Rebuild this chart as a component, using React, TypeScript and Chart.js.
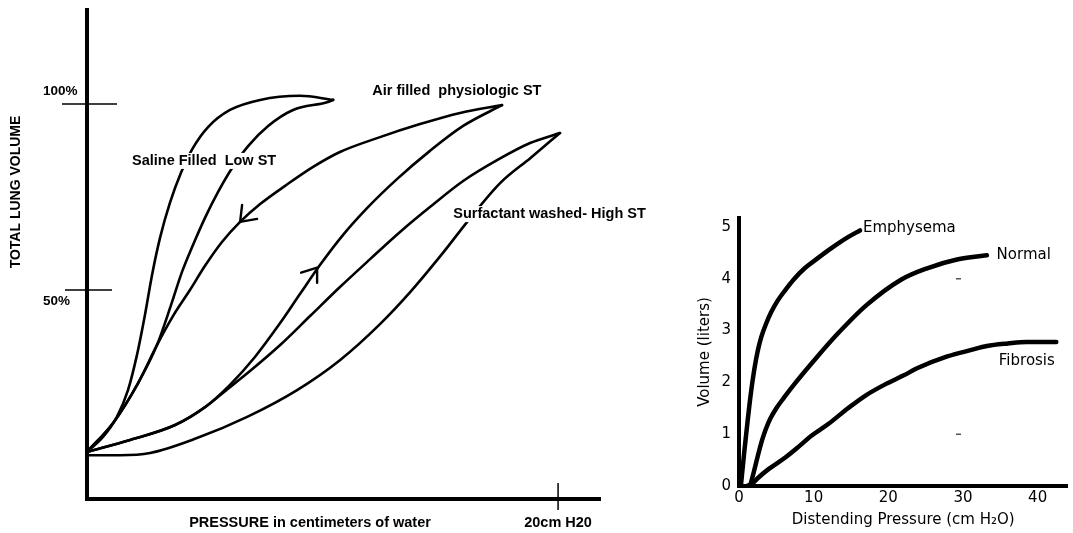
import React, { useEffect, useRef } from 'react';
import { Chart, registerables } from 'chart.js';

Chart.register(...registerables);

// ---------------- Left chart: P–V loops (x: cm H2O, y: % total lung volume) ----------------
const salineInflationX = [0, 0.68, 1.27, 1.74, 2.12, 2.46, 2.76, 3.1, 3.52, 3.99, 4.5, 5.14, 6.07, 7.35, 9.04, 10.45];
const salineInflationY = [6.5, 10.5, 15.9, 23.1, 32.5, 43.3, 54.0, 64.0, 73.4, 81.5, 88.2, 93.8, 98.4, 101.1, 102.2, 101.1];
const salineDeflationX = [0, 1.1, 2.17, 2.97, 3.57, 4.03, 4.5, 5.01, 5.56, 6.16, 6.84, 7.69, 8.75, 10.19, 10.45];
const salineDeflationY = [6.5, 14.2, 25.0, 35.2, 46.0, 54.8, 62.1, 69.4, 76.3, 82.8, 88.7, 94.1, 98.4, 100.5, 101.1];
const airDeflationX = [0, 1.1, 2.17, 2.97, 3.65, 4.37, 5.01, 5.73, 6.5, 7.35, 8.41, 9.6, 10.74, 12.44, 14.14, 15.84, 17.62];
const airDeflationY = [6.5, 14.2, 25.0, 35.2, 43.0, 50.0, 56.5, 62.9, 68.3, 73.1, 78.0, 83.1, 87.1, 91.1, 94.6, 97.6, 99.7];
const airInflationX = [0, 1.83, 3.74, 5.01, 6.07, 7.13, 8.2, 9.04, 9.89, 10.83, 11.89, 13.16, 14.56, 15.97, 17.62];
const airInflationY = [6.5, 9.7, 13.7, 18.5, 24.5, 32.0, 41.1, 48.9, 56.7, 64.5, 72.0, 79.8, 87.4, 94.1, 99.7];
const surfactantDeflationX = [0, 1.83, 3.74, 5.01, 5.86, 6.92, 8.2, 9.47, 10.74, 12.02, 13.29, 14.56, 15.97, 17.41, 18.81, 20.08];
const surfactantDeflationY = [6.5, 9.7, 13.7, 18.5, 22.8, 28.2, 35.2, 43.0, 50.8, 58.3, 65.6, 72.3, 79.3, 84.9, 89.5, 92.2];
const surfactantInflationX = [0, 1.4, 2.68, 4.67, 6.8, 8.92, 10.75, 12.45, 13.73, 15.0, 16.28, 17.55, 18.83, 20.08];
const surfactantInflationY = [5.6, 5.6, 6.2, 10.2, 15.9, 23.1, 31.2, 40.9, 49.5, 59.1, 69.4, 78.8, 85.5, 92.2];

const leftCurveLabels = ['Saline Filled  Low ST', 'Air filled  physiologic ST', 'Surfactant washed- High ST'];
const leftCurveLabelX = [1.91, 12.11, 15.55];
const leftCurveLabelY = [84.7, 103.5, 70.4];

const arrowX = [6.5, 9.77];
const arrowY = [68.3, 56.0];

const leftYTickValues = [100, 50];
const leftYTickLabels = ['100%', '50%'];
const leftXTickValues = [20];
const leftXTickLabels = ['20cm H20'];

// ---------------- Right chart: static compliance curves ----------------
const emphysemaX = [0.25, 0.7, 1.15, 1.6, 2.05, 2.5, 3.0, 3.6, 4.3, 5.2, 6.2, 7.3, 8.8, 10.6, 12, 13.3, 14.6, 16.2];
const emphysemaY = [0, 0.65, 1.25, 1.8, 2.25, 2.6, 2.88, 3.12, 3.35, 3.58, 3.78, 3.98, 4.2, 4.4, 4.55, 4.68, 4.8, 4.93];
const normalX = [1.5, 2.0, 2.5, 3.1, 3.6, 4.2, 5.0, 6.0, 7.5, 10.4, 13.3, 17, 21.7, 25.2, 29.2, 33.2];
const normalY = [0, 0.28, 0.57, 0.89, 1.1, 1.3, 1.5, 1.7, 1.98, 2.48, 2.95, 3.48, 3.98, 4.2, 4.37, 4.45];
const fibrosisX = [1.0, 1.8, 2.5, 4, 6.2, 8, 9.7, 12, 14.6, 17, 19.7, 22, 24, 27.9, 31, 33.2, 36, 38.5, 42.5];
const fibrosisY = [0, 0.05, 0.15, 0.33, 0.55, 0.76, 0.97, 1.2, 1.5, 1.75, 1.97, 2.13, 2.28, 2.5, 2.62, 2.7, 2.75, 2.78, 2.78];
const markX = [29.4, 29.4];
const markY = [4.0, 1.0];

const rightXTicks = [0, 10, 20, 30, 40];
const rightYTicks = [0, 1, 2, 3, 4, 5];
const rightLabels = ['Emphysema', 'Normal', 'Fibrosis'];
const rightLabelX = [16.6, 34.5, 34.8];
const rightLabelY = [4.97, 4.45, 2.4];

const toPts = (xs: number[], ys: number[]) => xs.map((x, i) => ({ x, y: ys[i] }));

const LEFT_FONT = '"Liberation Sans", Arial, sans-serif';
const RIGHT_FONT = '"DejaVu Sans", sans-serif';

const leftDecor = {
  id: 'leftDecor',
  afterDatasetsDraw(chart: any) {
    const { ctx } = chart;
    const x = chart.scales.x;
    const y = chart.scales.y;
    ctx.save();
    ctx.fillStyle = '#000';
    ctx.strokeStyle = '#000';
    ctx.lineCap = 'butt';

    // tick marks
    ctx.lineWidth = 1.5;
    ctx.beginPath();
    leftYTickValues.forEach((v, i) => {
      const py = y.getPixelForValue(v);
      const out = i === 0 ? 25 : 22;
      const inn = i === 0 ? 30 : 25;
      ctx.moveTo(x.left - out, py);
      ctx.lineTo(x.left + inn, py);
    });
    leftXTickValues.forEach((v) => {
      const px = x.getPixelForValue(v);
      ctx.moveTo(px, y.bottom - 16);
      ctx.lineTo(px, y.bottom + 11);
    });
    ctx.stroke();

    // arrowheads
    ctx.lineWidth = 2.4;
    ctx.lineCap = 'round';
    const arms = [
      [[2, -17], [17, -3]],
      [[-16, 5], [0, 15]],
    ];
    arrowX.forEach((v, i) => {
      const px = x.getPixelForValue(v);
      const py = y.getPixelForValue(arrowY[i]);
      ctx.beginPath();
      arms[i].forEach(([dx, dy]) => {
        ctx.moveTo(px, py);
        ctx.lineTo(px + dx, py + dy);
      });
      ctx.stroke();
    });

    // texts
    ctx.textBaseline = 'middle';
    ctx.textAlign = 'left';
    ctx.font = `bold 13.5px ${LEFT_FONT}`;
    leftYTickValues.forEach((v, i) => {
      const py = y.getPixelForValue(v) + (i === 0 ? -13 : 11);
      ctx.fillText(leftYTickLabels[i], x.left - 44, py);
    });
    ctx.font = `bold 14.5px ${LEFT_FONT}`;
    leftCurveLabels.forEach((t, i) => {
      const px = x.getPixelForValue(leftCurveLabelX[i]);
      const py = y.getPixelForValue(leftCurveLabelY[i]);
      const w = ctx.measureText(t).width;
      ctx.fillStyle = '#fff';
      ctx.fillRect(px - 3, py - 8, w + 6, 16);
      ctx.fillStyle = '#000';
      ctx.fillText(t, px, py);
    });
    ctx.textAlign = 'center';
    ctx.fillText('PRESSURE in centimeters of water', x.left + 223, y.bottom + 24);
    leftXTickValues.forEach((v, i) => {
      ctx.fillText(leftXTickLabels[i], x.getPixelForValue(v), y.bottom + 24);
    });
    ctx.font = `bold 14px ${LEFT_FONT}`;
    ctx.translate(16, y.top + 182);
    ctx.rotate(-Math.PI / 2);
    ctx.fillText('TOTAL LUNG VOLUME', 0, 0);
    ctx.restore();
  },
};

const rightDecor = {
  id: 'rightDecor',
  afterDatasetsDraw(chart: any) {
    const { ctx } = chart;
    const x = chart.scales.x;
    const y = chart.scales.y;
    ctx.save();
    ctx.fillStyle = '#000';
    ctx.font = `15px ${RIGHT_FONT}`;
    ctx.textAlign = 'left';
    ctx.textBaseline = 'middle';
    rightLabels.forEach((t, i) => {
      ctx.fillText(t, x.getPixelForValue(rightLabelX[i]), y.getPixelForValue(rightLabelY[i]));
    });
    ctx.restore();
  },
};

function LeftChart() {
  const ref = useRef<HTMLCanvasElement>(null);
  useEffect(() => {
    const line = (label: string, xs: number[], ys: number[]) => ({
      label,
      data: toPts(xs, ys),
      borderColor: '#000',
      borderWidth: 2.6,
      pointRadius: 0,
      showLine: true,
      fill: false,
      cubicInterpolationMode: 'monotone' as const,
      borderCapStyle: 'round' as const,
    });
    const chart = new Chart(ref.current as HTMLCanvasElement, {
      type: 'scatter',
      data: {
        datasets: [
          line('Saline inflation', salineInflationX, salineInflationY),
          line('Saline deflation', salineDeflationX, salineDeflationY),
          line('Air deflation', airDeflationX, airDeflationY),
          line('Air inflation', airInflationX, airInflationY),
          line('Surfactant deflation', surfactantDeflationX, surfactantDeflationY),
          line('Surfactant inflation', surfactantInflationX, surfactantInflationY),
        ],
      },
      options: {
        animation: false,
        responsive: false,
        events: [],
        layout: { padding: { left: 87, top: 10, right: 80, bottom: 34 } },
        plugins: { legend: { display: false }, tooltip: { enabled: false } },
        scales: {
          x: {
            type: 'linear',
            min: 0,
            max: 21.78,
            grid: { display: false, drawTicks: false },
            ticks: { display: false },
            border: { display: true, color: '#000', width: 4 },
            afterFit: (s: any) => { s.height = 0; },
          },
          y: {
            type: 'linear',
            min: -6.18,
            max: 125.27,
            grid: { display: false, drawTicks: false },
            ticks: { display: false },
            border: { display: true, color: '#000', width: 4 },
            afterFit: (s: any) => { s.width = 0; },
          },
        },
      } as any,
      plugins: [leftDecor],
    });
    return () => chart.destroy();
  }, []);
  return (
    <canvas
      ref={ref}
      width={680}
      height={533}
      style={{ position: 'absolute', left: 0, top: 0, width: 680, height: 533 }}
    />
  );
}

function RightChart() {
  const ref = useRef<HTMLCanvasElement>(null);
  useEffect(() => {
    const line = (label: string, xs: number[], ys: number[]) => ({
      label,
      data: toPts(xs, ys),
      borderColor: '#000',
      borderWidth: 4.5,
      pointRadius: 0,
      showLine: true,
      fill: false,
      cubicInterpolationMode: 'monotone' as const,
      borderCapStyle: 'round' as const,
    });
    const tickFont = { family: RIGHT_FONT, size: 15 };
    const chart = new Chart(ref.current as HTMLCanvasElement, {
      type: 'scatter',
      data: {
        datasets: [
          line('Emphysema', emphysemaX, emphysemaY),
          line('Normal', normalX, normalY),
          line('Fibrosis', fibrosisX, fibrosisY),
          {
            label: 'marks',
            data: toPts(markX, markY),
            pointStyle: 'line',
            pointRadius: 2.5,
            borderColor: '#555',
            backgroundColor: '#555',
            borderWidth: 1.5,
            showLine: false,
          } as any,
        ],
      },
      options: {
        animation: false,
        responsive: false,
        events: [],
        layout: { padding: { left: 0, top: 218, right: 3, bottom: 0 } },
        plugins: { legend: { display: false }, tooltip: { enabled: false } },
        scales: {
          x: {
            type: 'linear',
            min: 0,
            max: 44,
            afterBuildTicks: (s: any) => { s.ticks = rightXTicks.map((v) => ({ value: v })); },
            ticks: { color: '#000', font: tickFont, padding: 3, maxRotation: 0, autoSkip: false },
            grid: { display: false, drawTicks: false },
            border: { display: true, color: '#000', width: 4 },
            title: {
              display: true,
              text: 'Distending Pressure (cm H₂O)',
              color: '#000',
              font: tickFont,
              padding: { top: 0, bottom: 4 },
            },
            afterFit: (s: any) => { s.height = 47; },
          },
          y: {
            type: 'linear',
            min: 0,
            max: 5.17,
            afterBuildTicks: (s: any) => { s.ticks = rightYTicks.map((v) => ({ value: v })); },
            ticks: { color: '#000', font: tickFont, padding: 8, autoSkip: false },
            grid: { display: false, drawTicks: false },
            border: { display: true, color: '#000', width: 4 },
            title: {
              display: true,
              text: 'Volume (liters)',
              color: '#000',
              font: tickFont,
              padding: { top: 16, bottom: 0 },
            },
            afterFit: (s: any) => { s.width = 59; },
          },
        },
      } as any,
      plugins: [rightDecor],
    });
    return () => chart.destroy();
  }, []);
  return (
    <canvas
      ref={ref}
      width={393}
      height={533}
      style={{ position: 'absolute', left: 680, top: 0, width: 393, height: 533 }}
    />
  );
}

export default function App() {
  return (
    <div
      style={{
        position: 'fixed',
        left: 0,
        top: 0,
        width: 1073,
        height: 533,
        background: '#fff',
        overflow: 'hidden',
      }}
    >
      <LeftChart />
      <RightChart />
    </div>
  );
}
